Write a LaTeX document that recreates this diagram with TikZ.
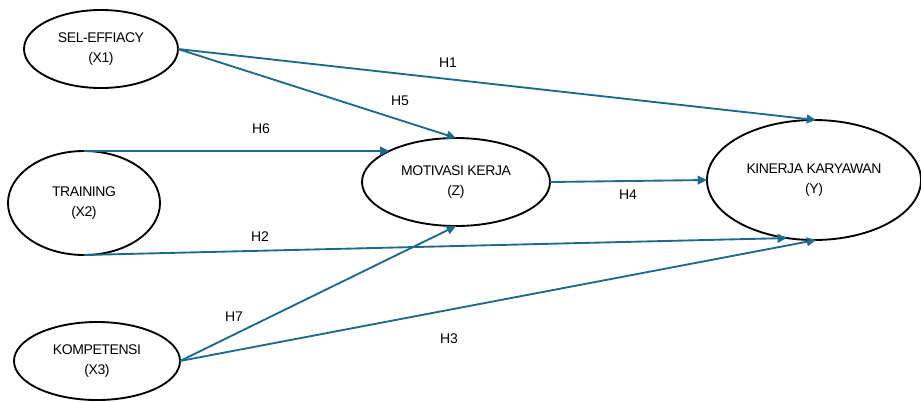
\documentclass[tikz,border=0pt]{standalone}
\usepackage{fontspec}
\setmainfont{Liberation Sans}
\newfontfamily\varfont[LetterSpace=-3]{Liberation Sans}
\usetikzlibrary{shapes.geometric,arrows.meta}
\definecolor{pathblue}{HTML}{1F6A8C}
\tikzset{
  var/.style={ellipse, draw=black, line width=1.4pt, inner sep=0pt, outer sep=0pt,
    align=center, font=\varfont\fontsize{10.5}{15}\selectfont},
  path/.style={draw=pathblue, line width=1.4pt,
    -{Triangle[length=7pt,width=6.5pt]}},
  hyp/.style={font=\fontsize{10.5}{12}\selectfont, inner sep=0pt}
}
\begin{document}
\begin{tikzpicture}[x=0.75pt,y=-0.75pt]
  \useasboundingbox (0,0) rectangle (921,401);
  % latent variables (sizes in pt: 1 px = 0.75 pt)
  \node[var, minimum width=115.5pt, minimum height=58.5pt] (sel) at (101,49) {SEL-EFFIACY\\(X1)};
  \node[var, minimum width=114pt, minimum height=78pt] (tr) at (84,203) {TRAINING\\(X2)};
  \node[var, minimum width=124.5pt, minimum height=58.5pt] (kom) at (97,361) {KOMPETENSI\\(X3)};
  \node[var, minimum width=141pt, minimum height=66pt] (mot) at (456,182) {MOTIVASI KERJA\\(Z)};
  \node[var, minimum width=160.5pt, minimum height=90pt] (kin) at (814,180) {KINERJA KARYAWAN\\(Y)};
  % hypothesised paths
  \draw[path] (sel.east) -- (kin.88);
  \draw[path] (sel.east) -- (mot.north);
  \draw[path] (tr.north) -- (tr.north -| mot.155);
  \draw[path] (tr.south) -- (kin.245);
  \draw[path] (mot.east) -- (kin.west);
  \draw[path] (kom.east) -- (mot.south);
  \draw[path] (kom.east) -- (kin.272);
  % path labels
  \node[hyp] (h1) at (448,63) {H1};
  \node[hyp] (h5) at (400,101) {H5};
  \node[hyp] (h6) at (261,129) {H6};
  \node[hyp] (h4) at (628,195) {H4};
  \node[hyp] (h2) at (260,237) {H2};
  \node[hyp] (h7) at (234,317) {H7};
  \node[hyp] (h3) at (449,339) {H3};
\end{tikzpicture}
\end{document}
